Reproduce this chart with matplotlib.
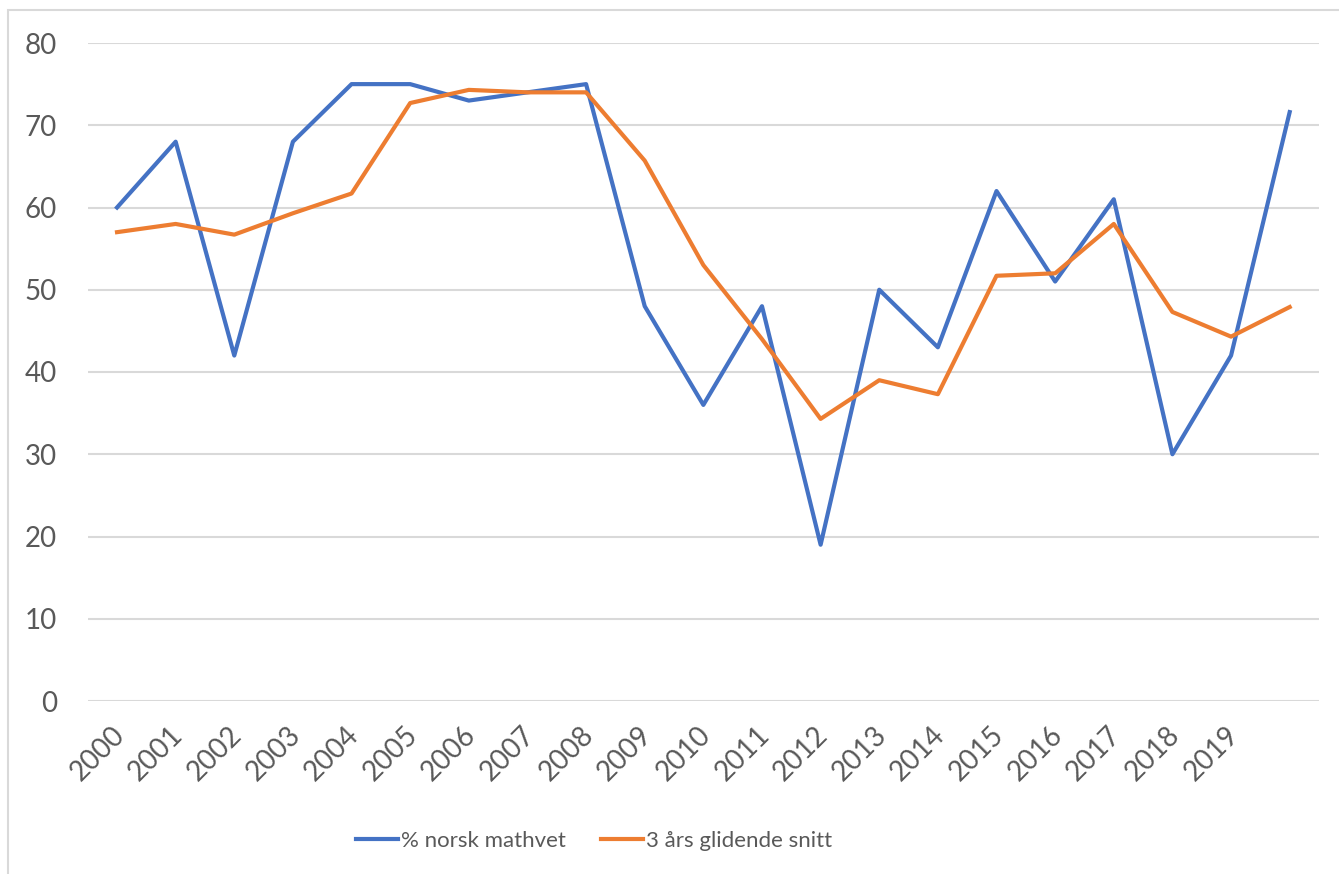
import matplotlib
matplotlib.use("Agg")
import matplotlib.pyplot as plt
import matplotlib.transforms as mtrans
from matplotlib import font_manager
from matplotlib.patches import Rectangle

W, H = 1339, 874

years = list(range(2000, 2021))
tick_labels = [str(y) for y in range(2000, 2020)] + [""]
norsk = [60, 68, 42, 68, 75, 75, 73, 74, 75, 48, 36, 48, 19, 50, 43, 62, 51, 61, 30, 42, 71.6]
snitt = [57, 58, 56.7, 59.3, 61.7, 72.7, 74.3, 74, 74, 65.7, 53, 44, 34.3, 39, 37.3,
         51.7, 52, 58, 47.3, 44.3, 47.9]

BLUE, ORANGE = "#4472C4", "#ED7D31"
TXT, GRID = "#595959", "#D9D9D9"

plt.rcParams["font.family"] = ["Lato", "DejaVu Sans"]

# legend text in the original is narrow (Calibri); use a narrow face if there is one
names = {f.name for f in font_manager.fontManager.ttflist}
if "Liberation Sans Narrow" in names:
    leg_font = {"family": ["Liberation Sans Narrow", "DejaVu Sans"], "size": 20}
else:
    leg_font = {"family": ["Lato", "DejaVu Sans"], "size": 16}

fig = plt.figure(figsize=(W / 100, H / 100), dpi=100)
fig.patch.set_facecolor("white")

# chart area border (Excel style)
fig.patches.append(Rectangle((8 / W, -0.01), 1.1, 1 - 10 / H + 0.01,
                             transform=fig.transFigure, fill=False,
                             edgecolor=GRID, linewidth=1.5))

left, right = 87.7 / W, 1319 / W
bottom, top = (H - 701) / H, (H - 43) / H
ax = fig.add_axes([left, bottom, right - left, top - bottom])

x = list(range(len(years)))
ax.plot(x, norsk, color=BLUE, lw=3.0, solid_joinstyle="round", label="% norsk mathvet", zorder=3)
ax.plot(x, snitt, color=ORANGE, lw=3.0, solid_joinstyle="round", label="3 års glidende snitt", zorder=3)

ax.set_xlim(-0.5, len(years) - 0.5)
ax.set_ylim(0, 80)
ax.set_yticks(range(0, 81, 10))
ax.yaxis.grid(True, color=GRID, lw=1.5)
ax.set_axisbelow(True)
for s in ax.spines.values():
    s.set_visible(False)
ax.tick_params(axis="both", length=0, labelsize=20, labelcolor=TXT)
ax.tick_params(axis="y", pad=22)

ax.set_xticks(x)
ax.set_xticklabels(tick_labels, rotation=45, ha="right", va="top",
                   rotation_mode="anchor", fontsize=20, color=TXT)
ax.tick_params(axis="x", pad=15)
shift = mtrans.ScaledTranslation(-6 / 100, 0, fig.dpi_scale_trans)
for lab in ax.get_xticklabels():
    lab.set_transform(lab.get_transform() + shift)

fig.legend(loc="center", bbox_to_anchor=(594 / W, 1 - 841 / H), ncol=2, frameon=False,
           prop=leg_font, labelcolor=TXT, handlelength=1.9, handletextpad=0.15,
           columnspacing=1.55)

fig.savefig("out.png", dpi=100, facecolor="white")
